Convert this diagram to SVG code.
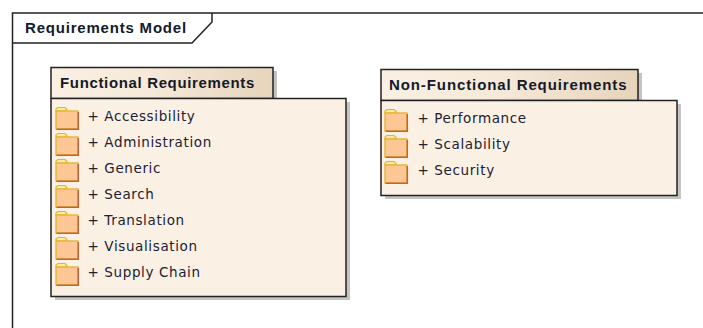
<svg xmlns="http://www.w3.org/2000/svg" width="703" height="328" viewBox="0 0 703 328">
<style>
.frame{fill:none;stroke:#222;stroke-width:1.5}
.box{fill:#faf0e3;stroke:#222;stroke-width:1.5}
.tab{fill:url(#tabGrad);stroke:#222;stroke-width:1.5}
.shadow{fill:#c4c4c4}
.title{font-family:"Liberation Sans",Arial,sans-serif;font-size:15px;font-weight:bold;fill:#141a2a;letter-spacing:.65px}
.item{font-family:"DejaVu Sans",Verdana,sans-serif;font-size:13.5px;fill:#1b2233;letter-spacing:.62px}
.f-back{fill:#fbe9a6;stroke:#e3b52b;stroke-width:1.2}
.f-body{fill:#fdc795;stroke:#e3b52b;stroke-width:1.3}
.f-edge{fill:none;stroke:#bf6437;stroke-width:1.5}
</style>
<defs>
<linearGradient id="tabGrad" x1="0" x2="1" y1="0" y2="0"><stop offset="0" stop-color="#faf0e3"/><stop offset=".45" stop-color="#f6e9d9"/><stop offset="1" stop-color="#e6d4bb"/></linearGradient>
<g id="folder">
<path class="f-back" d="M1 4V2L3 .5H10L12 2.500V4Z"/>
<rect class="f-body" x="1" y="4" width="22" height="18"/>
<path class="f-edge" d="M1.500 22.300H23.300V5"/>
</g>
</defs>
<rect width="703" height="328" fill="#fff"/>
<g id="frame">
<path class="frame" d="M12.500 328V13H703"/>
<path class="frame" d="M12.500 43H192L212 22V13"/>
<text class="title" x="25" y="33" style="letter-spacing:.8px">Requirements Model</text>
</g>
<g id="functional-requirements">
<rect class="shadow" x="54" y="71" width="223" height="30"/>
<rect class="shadow" x="55" y="102" width="295" height="198"/>
<rect class="tab" x="51" y="67.500" width="222" height="31"/>
<rect class="box" x="51" y="98.500" width="295" height="198"/>
<text class="title" x="60" y="88">Functional Requirements</text>
<use href="#folder" x="55" y="107"/><text class="item" x="87.500" y="121">+ Accessibility</text>
<use href="#folder" x="55" y="133"/><text class="item" x="87.500" y="147">+ Administration</text>
<use href="#folder" x="55" y="159"/><text class="item" x="87.500" y="173">+ Generic</text>
<use href="#folder" x="55" y="185"/><text class="item" x="87.500" y="199">+ Search</text>
<use href="#folder" x="55" y="211"/><text class="item" x="87.500" y="225">+ Translation</text>
<use href="#folder" x="55" y="237"/><text class="item" x="87.500" y="251">+ Visualisation</text>
<use href="#folder" x="55" y="263"/><text class="item" x="87.500" y="277">+ Supply Chain</text>
</g>
<g id="non-functional-requirements">
<rect class="shadow" x="384" y="73" width="258" height="30"/>
<rect class="shadow" x="385" y="104" width="296" height="95"/>
<rect class="tab" x="381" y="69.500" width="257" height="31"/>
<rect class="box" x="381" y="100.500" width="296" height="95"/>
<text class="title" x="389" y="90" style="letter-spacing:.9px">Non-Functional Requirements</text>
<use href="#folder" x="384" y="109"/><text class="item" x="417.500" y="123">+ Performance</text>
<use href="#folder" x="384" y="135"/><text class="item" x="417.500" y="149">+ Scalability</text>
<use href="#folder" x="384" y="161"/><text class="item" x="417.500" y="175">+ Security</text>
</g>
<g id="connectors"></g>
</svg>
